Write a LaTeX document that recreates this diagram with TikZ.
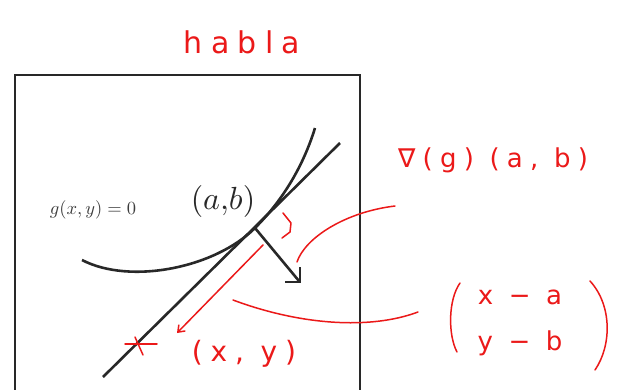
\documentclass[tikz,border=0pt]{standalone}
\usepackage{amsmath}
\usepackage{fontspec}
\newfontfamily\hand[LetterSpace=28]{DejaVu Sans}
\usetikzlibrary{arrows.meta}
\definecolor{ink}{RGB}{40,40,40}
\definecolor{pen}{RGB}{235,25,25}
\definecolor{txtgray}{RGB}{60,60,60}
\tikzset{
  frame/.style={draw=ink,line width=2.8pt},
  blackline/.style={draw=ink,line width=2.6pt},
  redline/.style={draw=pen,line width=1.5pt,line cap=round,line join=round},
  handtext/.style={text=pen,inner sep=0pt,font=\hand\fontsize{26}{30}\selectfont},
}
\begin{document}
\begin{tikzpicture}[x=1pt,y=-1pt]
\useasboundingbox (0,0) rectangle (622,389);
\fill[white] (0,0) rectangle (622,389);
% frame
\draw[frame] (15,395) -- (15,75) -- (360,75) -- (360,395);
% points
\coordinate (P) at (255,228);
\coordinate (T1) at (103,377);
\coordinate (T2) at (340,143);
\coordinate (G) at (299,281);
% curve g(x,y)=0
\draw[blackline] (82,260) .. controls (130,285) and (215,268) .. (P)
                 .. controls (280,203) and (302,170) .. (315,128);
% tangent line
\draw[blackline] (T1) -- (T2);
% gradient arrow
\draw[blackline] (P) -- (G);
\draw[blackline,line join=miter] (285,282) -- (300,282) -- (300,267);
% labels
\node[text=txtgray,font=\normalsize,scale=1.85,inner sep=0pt] (glab) at (93,210) {$g(x,y)=0$};
\node[text=ink,font=\normalsize,scale=3.2,inner sep=0pt] (ab) at (223,201) {$(a{,}b)$};
% red annotations
\node[handtext,font=\hand\fontsize{30}{34}\selectfont] (habla) at (242,42) {habla};
\node[handtext] (grad) at (493,160) {∇(g) (a, b)};
\node[handtext] (r1) at (520,297) {x − a};
\node[handtext] (r2) at (520,343) {y − b};
\node[handtext,font=\hand\fontsize{28}{32}\selectfont] (xy) at (244,354) {(x, y)};
% parentheses of the vector
\draw[redline] (460,283) .. controls (448,300) and (448,335) .. (457,352);
\draw[redline] (590,281) .. controls (612,305) and (612,345) .. (595,370);
% right-angle mark
\draw[redline] (283,213) -- (291,223) -- (290,232) -- (282,238);
% red arrow to (x,y)
\draw[redline,-{Straight Barb[length=6pt,width=9pt]}] (263,245) -- (177,333);
% cross mark
\draw[redline] (125,344) -- (157,344);
\draw[redline] (135,337) -- (143,355);
% connector curves
\draw[redline] (297,262) .. controls (305,238) and (345,212) .. (395,206);
\draw[redline] (233,300) .. controls (300,325) and (370,330) .. (418,312);
\end{tikzpicture}
\end{document}
